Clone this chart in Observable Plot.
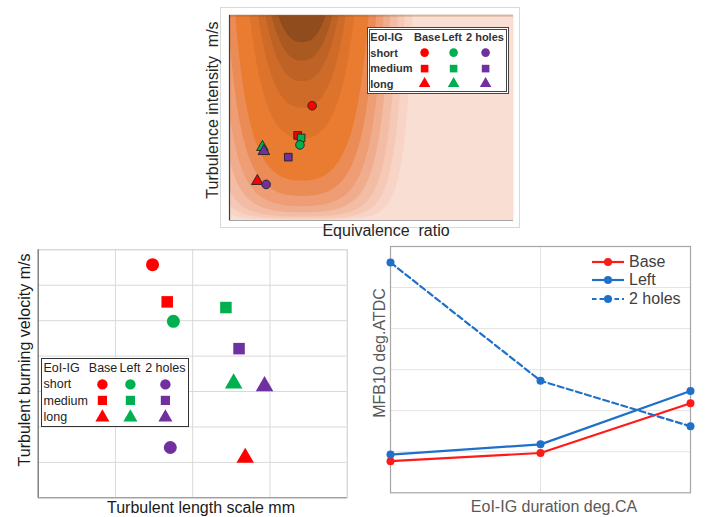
<!DOCTYPE html>
<html><head><meta charset="utf-8">
<script src="https://cdn.jsdelivr.net/npm/d3@7"></script>
<script src="https://cdn.jsdelivr.net/npm/@observablehq/plot@0.6"></script>
<style>
body{margin:0;background:#fff;}
#root{position:relative;width:710px;height:517px;overflow:hidden;font-family:"Liberation Sans",Arial,sans-serif;}
.panel{position:absolute;}
.lbl{position:absolute;white-space:pre;line-height:1;}
.legend{position:absolute;background:#fff;box-sizing:border-box;}
.legend span{position:absolute;white-space:pre;line-height:1;transform:translateY(-50%);}
.legend svg{position:absolute;overflow:visible;}
</style></head><body><div id="root"></div>
<script>
// ---------- data ----------
const series = ["Base", "Left", "2 holes"];
const timings = ["short", "medium", "long"];
const seriesColors = ["#ff0000", "#00b050", "#7030a0"];
const timingShapes = ["circle", "square", "triangle"];
const legendHeader = ["EoI-IG", "Base", "Left", "2 holes"];

// top: equivalence ratio vs turbulence intensity (short, medium, long)
const phiBase = [2.91, 2.40, 0.98];
const phiLeft = [2.48, 2.52, 1.16];
const phiHoles = [1.29, 2.07, 1.21];
const uBase = [5.60, 4.15, 1.92];
const uLeft = [3.69, 4.03, 3.58];
const uHoles = [1.76, 3.09, 3.38];

// background flammability field (contour shading)
const fieldCenter = 2.55, fieldWidth = 1.91, fieldPower = 2.4;
const fieldThresholds = [0.004, 0.01, 0.02, 0.04, 0.07, 0.12, 0.195, 0.4, 0.55, 0.68, 0.78, 0.87];
const fieldColors = ["#f7d4c5", "#f5c9b6", "#f3bca4", "#f0ad8e", "#ee9d74", "#eb8b55", "#e97c30", "#de742c", "#cf6b28", "#be6325", "#aa5921", "#914c1d"];
const fieldBackground = "#f9ded3";

// bottom-left: turbulent length scale vs turbulent burning velocity
const lenBase = [1.48, 1.67, 2.68];
const lenLeft = [1.75, 2.43, 2.53];
const lenHoles = [1.71, 2.60, 2.93];
const stBase = [6.58, 5.53, 1.13];
const stLeft = [4.98, 5.37, 3.23];
const stHoles = [1.42, 4.21, 3.15];
const lenGrid = [1, 2, 3];
const stGrid = [1, 2, 3, 4, 5, 6];

// bottom-right: EoI-IG duration vs MFB10
const durations = [0, 1, 2];
const mfbBase = [0.77, 0.97, 2.18];
const mfbLeft = [0.93, 1.18, 2.48];
const mfbHoles = [5.61, 2.73, 1.62];
const lineColors = ["#ff1a1a", "#1f70c8", "#1f70c8"];
const lineDash = [null, null, "6,3.5"];
const durGrid = [1];
const mfbGrid = [1, 2, 3, 4, 5];

// ---------- helpers ----------
const root = document.getElementById("root");
function points(xs, ys) {
  const out = [];
  series.forEach((s, i) => timings.forEach((t, j) => out.push({series: s, timing: t, shape: timingShapes[j], color: seriesColors[i], x: xs[i][j], y: ys[i][j]})));
  return out;
}
function dotMarks(pts, r, stroke, order) {
  const marks = [];
  for (const shape of order) for (const s of series) {
    const sub = pts.filter(p => p.shape === shape && p.series === s);
    if (sub.length) marks.push(Plot.dot(sub, {x: "x", y: "y", symbol: shape, fill: sub[0].color, r, stroke: stroke || "none", strokeWidth: 0.9}));
  }
  return marks;
}
function place(el, left, top) {
  el.classList.add("panel");
  el.style.left = left + "px"; el.style.top = top + "px";
  root.appendChild(el);
}
function label(text, cx, cy, rot, size, color) {
  const d = document.createElement("div");
  d.className = "lbl";
  d.textContent = text;
  Object.assign(d.style, {left: cx + "px", top: cy + "px", fontSize: size + "px", color,
    transform: `translate(-50%,-50%) rotate(${rot}deg)`});
  root.appendChild(d);
}
const symbolTypes = {circle: d3.symbolCircle, square: d3.symbolSquare, triangle: d3.symbolTriangle};
function symbolSvg(shape, color, r) {
  const ns = "http://www.w3.org/2000/svg";
  const svg = document.createElementNS(ns, "svg");
  const s = r * 2;
  svg.setAttribute("width", 2 * s); svg.setAttribute("height", 2 * s);
  const p = document.createElementNS(ns, "path");
  p.setAttribute("d", d3.symbol(symbolTypes[shape], Math.PI * r * r)());
  p.setAttribute("transform", `translate(${s},${s})`);
  p.setAttribute("fill", color);
  svg.appendChild(p);
  svg.style.width = 2 * s + "px"; svg.style.height = 2 * s + "px";
  return [svg, s];
}
function symbolLegend(c) {
  const box = document.createElement("div");
  box.className = "legend";
  Object.assign(box.style, {left: c.left + "px", top: c.top + "px", width: c.width + "px", height: c.height + "px",
    border: c.border, fontSize: c.fontSize + "px", fontFamily: c.fontFamily, color: c.color, fontWeight: c.fontWeight || "normal"});
  const bw = c.bw;
  const addText = (t, x, y) => { const sp = document.createElement("span"); sp.textContent = t; sp.style.left = (x - bw) + "px"; sp.style.top = (y - bw) + "px"; box.appendChild(sp); };
  legendHeader.forEach((h, i) => addText(h, c.headerX[i], c.headerY));
  timings.forEach((t, j) => {
    addText(t, c.labelX, c.rowY[j]);
    series.forEach((s, i) => {
      const [svg, h] = symbolSvg(timingShapes[j], seriesColors[i], c.r);
      svg.style.left = (c.colX[i] - bw - h) + "px"; svg.style.top = (c.rowY[j] - bw - h) + "px";
      box.appendChild(svg);
    });
  });
  root.appendChild(box);
}
const svgStyle = {background: "transparent", overflow: "visible", fontFamily: "Liberation Sans, Arial, sans-serif"};

// ---------- top panel ----------
const outer = document.createElement("div");
Object.assign(outer.style, {position: "absolute", left: "220px", top: "7px", width: "300px", height: "221px", border: "1px solid #d9d9d9", boxSizing: "border-box"});
root.appendChild(outer);

const topPts = points([phiBase, phiLeft, phiHoles], [uBase, uLeft, uHoles]);
const field = (x, y) => (y / 10) * Math.exp(-Math.pow(Math.abs(x - fieldCenter) / fieldWidth, fieldPower));
const topPlot = Plot.plot({
  width: 330, height: 240, marginLeft: 29, marginRight: 17, marginTop: 15, marginBottom: 20,
  x: {domain: [0, 10], axis: null}, y: {domain: [0, 10], axis: null},
  color: {type: "threshold", domain: fieldThresholds.slice(1), range: fieldColors},
  style: svgStyle,
  marks: [
    Plot.frame({fill: fieldBackground, stroke: "none"}),
    Plot.contour({fill: field, x1: 0, y1: 0, x2: 10, y2: 10, thresholds: fieldThresholds, stroke: "none"}),
    Plot.ruleY([10], {stroke: "#8b4513", strokeOpacity: 0.35, strokeWidth: 2}),
    Plot.ruleX([0], {stroke: "#404040", strokeWidth: 1.2}),
    Plot.ruleY([0], {stroke: "#a6a6a6"}),
    ...dotMarks(topPts, 4.3, "#222", ["square", "triangle", "circle"])
  ]
});
place(topPlot, 200, 0);
label("Turbulence intensity\u00a0\u00a0m/s", 213, 110, -90, 16, "#262626");
label("Equivalence\u00a0\u00a0ratio", 386, 231, 0, 16, "#262626");
symbolLegend({left: 367, top: 27, width: 142, height: 67, border: "3px double #444", bw: 3,
  fontSize: 11, fontFamily: "'Liberation Sans', Arial, sans-serif", color: "#333", fontWeight: "bold",
  headerY: 9.7, headerX: [3.3, 47, 74.7, 99], labelX: 3.3, rowY: [25.7, 41.3, 57], colX: [58, 86.3, 119], r: 4.3});

// ---------- bottom-left panel ----------
const blPts = points([lenBase, lenLeft, lenHoles], [stBase, stLeft, stHoles]);
const blPlot = Plot.plot({
  width: 355, height: 277, marginLeft: 37.7, marginRight: 8.3, marginTop: 9.3, marginBottom: 19.7,
  x: {domain: [0, 4], axis: null}, y: {domain: [0, 7], axis: null},
  style: svgStyle,
  marks: [
    Plot.ruleX(lenGrid, {stroke: "#d9d9d9"}),
    Plot.ruleY(stGrid, {stroke: "#d9d9d9"}),
    Plot.frame({stroke: "#c8c8c8"}),
    Plot.ruleX([0], {stroke: "#707070", strokeWidth: 1.2}),
    Plot.ruleY([0], {stroke: "#8c8c8c"}),
    ...dotMarks(blPts, 6.5, null, ["square", "triangle", "circle"])
  ]
});
place(blPlot, 0, 240);
label("Turbulent burning velocity m/s", 25, 360, -90, 16, "#1a1a1a");
label("Turbulent length scale mm", 201, 508, 0, 16, "#1a1a1a");
symbolLegend({left: 41, top: 358, width: 148, height: 69, border: "1.5px solid #333", bw: 1.5,
  fontSize: 12.5, fontFamily: "'Liberation Sans', Arial, sans-serif", color: "#222",
  headerY: 10.3, headerX: [3, 48.3, 79, 104.7], labelX: 3, rowY: [26.5, 43, 59.7], colX: [62.3, 90, 125], r: 5.2});

// ---------- bottom-right panel ----------
const mfbSeries = [mfbBase, mfbLeft, mfbHoles];
const lineMarks = [];
series.forEach((s, i) => {
  const rows = durations.map((d, j) => ({x: d, y: mfbSeries[i][j]}));
  lineMarks.push(Plot.line(rows, {x: "x", y: "y", stroke: lineColors[i], strokeWidth: 2.2, strokeDasharray: lineDash[i] || undefined}));
  lineMarks.push(Plot.dot(rows, {x: "x", y: "y", fill: lineColors[i], r: 4}));
});
const brPlot = Plot.plot({
  width: 355, height: 277, marginLeft: 35, marginRight: 20, marginTop: 6, marginBottom: 24.7,
  x: {domain: [0, 2], axis: null}, y: {domain: [0, 6], axis: null},
  style: svgStyle,
  marks: [
    Plot.ruleY(mfbGrid, {stroke: "#e3e3e3"}),
    Plot.ruleX(durGrid, {stroke: "#e3e3e3"}),
    Plot.frame({stroke: "#a6a6a6", strokeWidth: 1.2}),
    ...lineMarks
  ]
});
place(brPlot, 355, 240);
label("MFB10 deg.ATDC", 380, 353, -90, 16, "#595959");
label("EoI-IG duration deg.CA", 554, 507, 0, 16, "#595959");
// line legend
const legendRows = [262, 280.3, 299];
series.forEach((s, i) => {
  const ns = "http://www.w3.org/2000/svg";
  const svg = document.createElementNS(ns, "svg");
  svg.setAttribute("width", 32); svg.setAttribute("height", 10);
  Object.assign(svg.style, {position: "absolute", left: "591.7px", top: (legendRows[i] - 5) + "px", overflow: "visible"});
  const ln = document.createElementNS(ns, "line");
  ln.setAttribute("x1", 0); ln.setAttribute("x2", 32); ln.setAttribute("y1", 5); ln.setAttribute("y2", 5);
  ln.setAttribute("stroke", lineColors[i]); ln.setAttribute("stroke-width", 2.2);
  if (lineDash[i]) ln.setAttribute("stroke-dasharray", "4.5,3");
  const c = document.createElementNS(ns, "circle");
  c.setAttribute("cx", 16); c.setAttribute("cy", 5); c.setAttribute("r", 4); c.setAttribute("fill", lineColors[i]);
  svg.appendChild(ln); svg.appendChild(c);
  root.appendChild(svg);
  const t = document.createElement("div");
  t.className = "lbl"; t.textContent = s;
  Object.assign(t.style, {left: "629px", top: legendRows[i] + "px", transform: "translateY(-50%)", fontSize: "16px", color: "#404040"});
  root.appendChild(t);
});
</script></body></html>
